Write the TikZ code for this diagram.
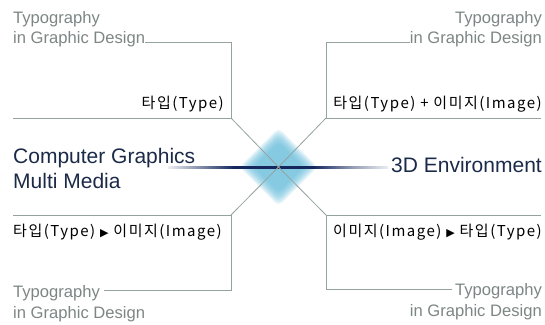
\documentclass[tikz,border=0pt]{standalone}
\usepackage{fontspec}
\setmainfont{Liberation Sans}
\newfontfamily\kr[LetterSpace=10]{Noto Sans CJK KR}
\newfontfamily\dv{DejaVu Sans}
\definecolor{lgray}{HTML}{94A2A0}
\definecolor{tgray}{HTML}{7C8684}
\definecolor{navy}{HTML}{1B2A48}
\definecolor{dblue}{HTML}{14285E}
\definecolor{sky}{HTML}{62BADA}
\pgfdeclarehorizontalshading{hline}{100bp}{color(0bp)=(white); color(25bp)=(white!92!dblue); color(31bp)=(white!55!dblue); color(40bp)=(dblue); color(58bp)=(dblue); color(67bp)=(white!55!dblue); color(75bp)=(white!92!dblue); color(100bp)=(white)}
\tikzset{
  conn/.style={draw=lgray, line width=0.8pt},
  typo/.style={text=tgray, font=\fontsize{16.6}{18}\selectfont, inner sep=0pt},
  big/.style={text=navy, font=\fontsize{21}{22}\selectfont, inner sep=0pt},
  krl/.style={text=black, font=\kr\fontsize{15}{16}\selectfont, inner sep=0pt},
}
\newcommand{\tri}{{\dv\fontsize{11}{11}\selectfont ▶}}
\begin{document}
\begin{tikzpicture}[x=1pt,y=-1pt]
\useasboundingbox (0,0) rectangle (545,324);
% diamond glow
\foreach \r in {39,37,...,25}{
  \fill[sky, fill opacity=0.17, rounded corners=5pt] (278.5,167-\r) -- (278.5+\r,167) -- (278.5,167+\r) -- (278.5-\r,167) -- cycle;
}
% corner coordinates
\coordinate (c) at (278.5,167);
\coordinate (tlA) at (145,42); \coordinate (tlB) at (231,42); \coordinate (tlC) at (231,118); \coordinate (tlD) at (13,118);
\coordinate (trA) at (410,42); \coordinate (trB) at (326,42); \coordinate (trC) at (326,118); \coordinate (trD) at (541,118);
\coordinate (blA) at (104,290); \coordinate (blB) at (231,290); \coordinate (blC) at (231,215); \coordinate (blD) at (13,215);
\coordinate (brA) at (452,289); \coordinate (brB) at (326,289); \coordinate (brC) at (326,215); \coordinate (brD) at (541,215);
% connectors
\draw[conn] (tlA) -- (tlB) -- (tlC) -- (tlD);
\draw[conn] (trA) -- (trB) -- (trC) -- (trD);
\draw[conn] (blA) -- (blB) -- (blC) -- (blD);
\draw[conn] (brA) -- (brB) -- (brC) -- (brD);
% horizontal shaded line
\shade[shading=hline] (168,166) rectangle (388,168.2);
\draw[conn] (tlC) -- (c) -- (brC);
\draw[conn] (trC) -- (c) -- (blC);
% texts
\node[typo, anchor=base west] (t1a) at (13,23) {Typography};
\node[typo, anchor=base west] (t1b) at (13,43) {in Graphic Design};
\node[typo, anchor=base east] (t2a) at (542,23) {Typography};
\node[typo, anchor=base east] (t2b) at (542,43) {in Graphic Design};
\node[typo, anchor=base west] (t3a) at (13,297) {Typography};
\node[typo, anchor=base west] (t3b) at (13,318) {in Graphic Design};
\node[typo, anchor=base east] (t4a) at (542,295) {Typography};
\node[typo, anchor=base east] (t4b) at (542,316) {in Graphic Design};
\node[krl, anchor=base east] (k1) at (224,108) {타입(Type)};
\node[krl, anchor=base east] (k2) at (542,108) {타입(Type) + 이미지(Image)};
\node[krl, anchor=base west] (k3) at (13,236) {타입(Type) \tri\ 이미지(Image)};
\node[krl, anchor=base east] (k4) at (542,236) {이미지(Image) \tri\ 타입(Type)};
\node[big, anchor=base west] (m1) at (13,163) {Computer Graphics};
\node[big, anchor=base west] (m2) at (13,188) {Multi Media};
\node[big, anchor=base east] (m3) at (542,172) {3D Environment};
\end{tikzpicture}
\end{document}
